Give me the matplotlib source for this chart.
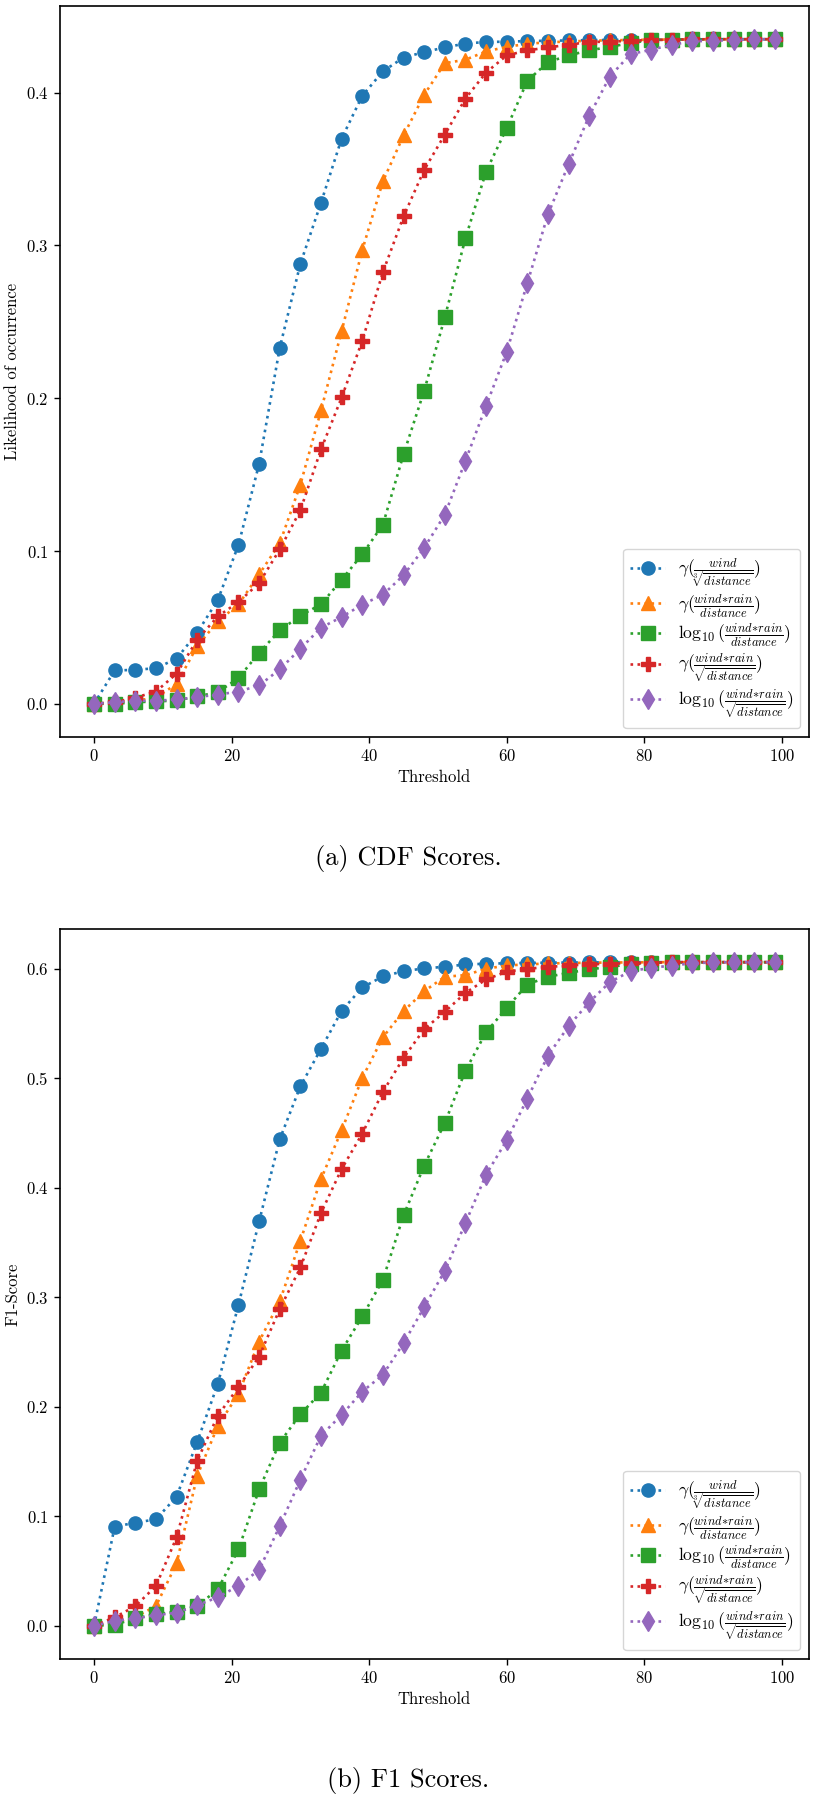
import matplotlib
matplotlib.use("Agg")
import matplotlib.pyplot as plt

plt.rcParams['font.family'] = 'serif'
plt.rcParams['font.serif'] = ['cmr10']
plt.rcParams['mathtext.fontset'] = 'cm'
plt.rcParams['axes.formatter.use_mathtext'] = True
plt.rcParams['axes.unicode_minus'] = False

threshold = list(range(0, 100, 3))

labels = [
    r'$\gamma(\frac{wind}{\sqrt[3]{distance}})$',
    r'$\gamma(\frac{wind\!*\!rain}{distance})$',
    r'$\log_{10}(\frac{wind\!*\!rain}{distance})$',
    r'$\gamma(\frac{wind\!*\!rain}{\sqrt{distance}})$',
    r'$\log_{10}(\frac{wind\!*\!rain}{\sqrt{distance}})$',
]
markers = ['o', '^', 's', 'P', 'd']
colors = ['#1f77b4', '#ff7f0e', '#2ca02c', '#d62728', '#9467bd']

cdf_blue = [0.0, 0.0218, 0.0222, 0.0233, 0.0295, 0.0465, 0.068, 0.104, 0.157, 0.233,
            0.288, 0.328, 0.370, 0.398, 0.414, 0.423, 0.4266, 0.4296, 0.4322, 0.4332,
            0.4334, 0.4338, 0.434, 0.4342, 0.4344, 0.4345, 0.4346, 0.4347, 0.4348, 0.4349,
            0.435, 0.435, 0.435, 0.435]
cdf_orange = [0.0, 0.001, 0.002, 0.004, 0.013, 0.0377, 0.054, 0.065, 0.0847, 0.105,
              0.1435, 0.192, 0.244, 0.297, 0.342, 0.372, 0.3986, 0.4193, 0.4216, 0.427,
              0.430, 0.432, 0.433, 0.4335, 0.434, 0.4343, 0.4345, 0.4347, 0.4348, 0.4349,
              0.435, 0.435, 0.435, 0.435]
cdf_green = [0.0, 0.0, 0.001, 0.0015, 0.0022, 0.0048, 0.0076, 0.0168, 0.0334, 0.048,
             0.0577, 0.0651, 0.0812, 0.0978, 0.1173, 0.1633, 0.2049, 0.253, 0.3047, 0.3484,
             0.3768, 0.4078, 0.420, 0.4244, 0.4277, 0.430, 0.4325, 0.4345, 0.4348, 0.4349,
             0.435, 0.435, 0.435, 0.435]
cdf_red = [0.0, 0.001, 0.004, 0.008, 0.0197, 0.042, 0.0572, 0.0666, 0.079, 0.101,
           0.1267, 0.1665, 0.2005, 0.2376, 0.2826, 0.319, 0.3495, 0.3726, 0.3962, 0.4132,
           0.4244, 0.4277, 0.4296, 0.4314, 0.4332, 0.4334, 0.434, 0.4345, 0.4347, 0.4349,
           0.435, 0.435, 0.435, 0.435]
cdf_purple = [0.0, 0.001, 0.002, 0.002, 0.0028, 0.0044, 0.006, 0.008, 0.012, 0.0225,
              0.036, 0.0498, 0.0568, 0.0649, 0.0714, 0.0841, 0.102, 0.1238, 0.159, 0.195,
              0.2304, 0.2754, 0.3204, 0.3532, 0.3849, 0.4106, 0.4253, 0.4281, 0.4314, 0.4336,
              0.434, 0.4345, 0.435, 0.435]

f1_blue = [0.0, 0.0905, 0.0942, 0.0972, 0.118, 0.168, 0.221, 0.2931, 0.3693, 0.4443,
           0.4927, 0.5269, 0.5616, 0.5829, 0.593, 0.5978, 0.6003, 0.6018, 0.6039, 0.6046,
           0.605, 0.6053, 0.6055, 0.6057, 0.6058, 0.6059, 0.606, 0.606, 0.606, 0.606,
           0.606, 0.606, 0.606, 0.606]
f1_orange = [0.0, 0.003, 0.008, 0.018, 0.057, 0.137, 0.1825, 0.2118, 0.2596, 0.2962,
             0.3516, 0.408, 0.4525, 0.5003, 0.5375, 0.5613, 0.5795, 0.5927, 0.5942, 0.600,
             0.603, 0.604, 0.6048, 0.6052, 0.6055, 0.6057, 0.6058, 0.606, 0.606, 0.606,
             0.606, 0.606, 0.606, 0.606]
f1_green = [0.0, 0.001, 0.0067, 0.0107, 0.0128, 0.018, 0.0333, 0.0698, 0.1247, 0.1673,
            0.1932, 0.213, 0.2514, 0.2825, 0.316, 0.3748, 0.4202, 0.4592, 0.507, 0.542,
            0.5643, 0.5856, 0.5927, 0.5963, 0.5994, 0.6018, 0.604, 0.6055, 0.6058, 0.606,
            0.606, 0.606, 0.606, 0.606]
f1_red = [0.0, 0.0077, 0.018, 0.0363, 0.0808, 0.1508, 0.192, 0.2179, 0.2459, 0.2892,
          0.3272, 0.377, 0.4172, 0.4495, 0.4876, 0.5186, 0.5448, 0.5607, 0.578, 0.5902,
          0.5973, 0.600, 0.6016, 0.603, 0.604, 0.6046, 0.605, 0.6055, 0.606, 0.606,
          0.606, 0.606, 0.606, 0.606]
f1_purple = [0.0, 0.0046, 0.0067, 0.0098, 0.0119, 0.0189, 0.026, 0.0366, 0.051, 0.0911,
             0.1335, 0.1737, 0.1926, 0.2139, 0.2292, 0.2581, 0.291, 0.3242, 0.3678, 0.412,
             0.4434, 0.4814, 0.5207, 0.5476, 0.5695, 0.5878, 0.5978, 0.6009, 0.6029, 0.605,
             0.6058, 0.606, 0.606, 0.606]

cdf_series = [cdf_blue, cdf_orange, cdf_green, cdf_red, cdf_purple]
f1_series = [f1_blue, f1_orange, f1_green, f1_red, f1_purple]

W, H = 816, 1800
fig = plt.figure(figsize=(W / 100, H / 100), dpi=100)

def make_axes(top_px, bottom_px):
    left_px, right_px = 60, 809
    return fig.add_axes([left_px / W, 1 - bottom_px / H,
                         (right_px - left_px) / W, (bottom_px - top_px) / H])

ax1 = make_axes(6, 737)
ax2 = make_axes(929, 1659)

FS = 12
for ax, series, ylabel in [(ax1, cdf_series, 'Likelihood of occurrence'),
                           (ax2, f1_series, 'F1-Score')]:
    for ys, m, c, lab in zip(series, markers, colors, labels):
        ms = 9.5
        if m == 'd':
            ms = 10.5
        elif m == '^':
            ms = 10
        ax.plot(threshold, ys, linestyle=':', marker=m, color=c, label=lab,
                linewidth=1.9, markersize=ms)
    ax.set_xlabel('Threshold', fontsize=FS)
    ax.set_ylabel(ylabel, fontsize=FS)
    ax.set_xticks([0, 20, 40, 60, 80, 100])
    ax.tick_params(labelsize=FS, length=4.5, width=1.0)
    for sp in ax.spines.values():
        sp.set_linewidth(1.2)
    ax.legend(loc='lower right', fontsize=12.7, borderaxespad=0.5,
              labelspacing=0.12, handletextpad=0.7)

ax1.set_yticks([0.0, 0.1, 0.2, 0.3, 0.4])
ax2.set_yticks([0.0, 0.1, 0.2, 0.3, 0.4, 0.5, 0.6])

fig.text(0.5, 1 - 858 / H, '(a) CDF Scores.', ha='center', va='center', fontsize=19)
fig.text(0.5, 1 - 1780 / H, '(b) F1 Scores.', ha='center', va='center', fontsize=19)

fig.savefig('out.png', dpi=100)
